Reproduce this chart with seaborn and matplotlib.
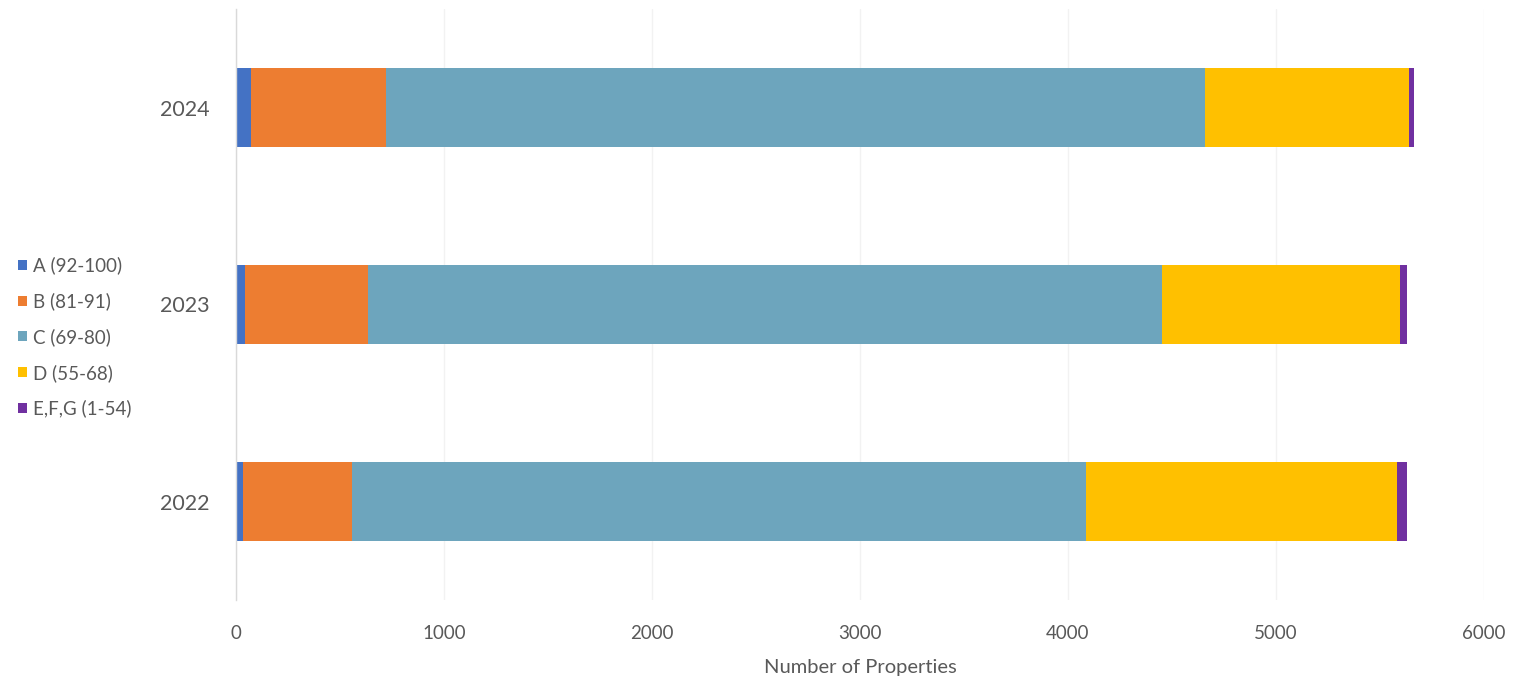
import matplotlib
matplotlib.use("Agg")
import matplotlib.pyplot as plt
from matplotlib.patches import Patch
import seaborn as sns
import pandas as pd
import numpy as np

years = ["2024", "2023", "2022"]
bands = ["A (92-100)", "B (81-91)", "C (69-80)", "D (55-68)", "E,F,G (1-54)"]
band_a = [72, 43, 35]
band_b = [648, 590, 524]
band_c = [3939, 3817, 3527]
band_d = [982, 1146, 1497]
band_efg = [23, 34, 45]
colors = ["#4472C4", "#ED7D31", "#6DA5BD", "#FFC000", "#7030A0"]

sns.set_theme(style="white")
plt.rcParams["font.family"] = ["Lato", "DejaVu Sans"]

series = [band_a, band_b, band_c, band_d, band_efg]
cumulative = np.cumsum(np.array(series), axis=0)

fig = plt.figure(figsize=(15.28, 6.8), dpi=100)
ax = fig.add_axes([236 / 1528, 1 - 600 / 680, (1484 - 236) / 1528, 591 / 680])

# stacked bars: draw running totals from the outermost band inwards
for i in range(len(bands) - 1, -1, -1):
    df = pd.DataFrame({"year": years, "total": cumulative[i]})
    sns.barplot(data=df, x="total", y="year", order=years, orient="h",
                color=colors[i], width=0.406, saturation=1, ax=ax,
                edgecolor="none", linewidth=0)

ax.set_xlim(0, 6000)
ax.set_ylim(2.5, -0.5)
ax.set_xticks(range(0, 6001, 1000))
ax.xaxis.grid(True, color="#f2f2f2", linewidth=1)
ax.set_axisbelow(True)
for side in ["top", "right", "bottom"]:
    ax.spines[side].set_visible(False)
ax.spines["left"].set_color("#d9d9d9")
ax.spines["left"].set_linewidth(1)

ax.tick_params(axis="x", length=0, pad=18, labelsize=13.5, labelcolor="#595959")
ax.tick_params(axis="y", length=0, pad=19, labelsize=15.5, labelcolor="#595959")
ax.set_ylabel("")
ax.set_xlabel("Number of Properties", fontsize=14.5, color="#595959", labelpad=12)

handles = [Patch(facecolor=c, edgecolor="none") for c in colors]
fig.legend(handles, bands, loc="center left", bbox_to_anchor=(0.012, 1 - 337 / 680),
           frameon=False, fontsize=13.5, labelcolor="#595959",
           handlelength=0.45, handleheight=0.45, handletextpad=0.35,
           labelspacing=0.95, borderaxespad=0, borderpad=0)

fig.savefig("out.png", dpi=100)
